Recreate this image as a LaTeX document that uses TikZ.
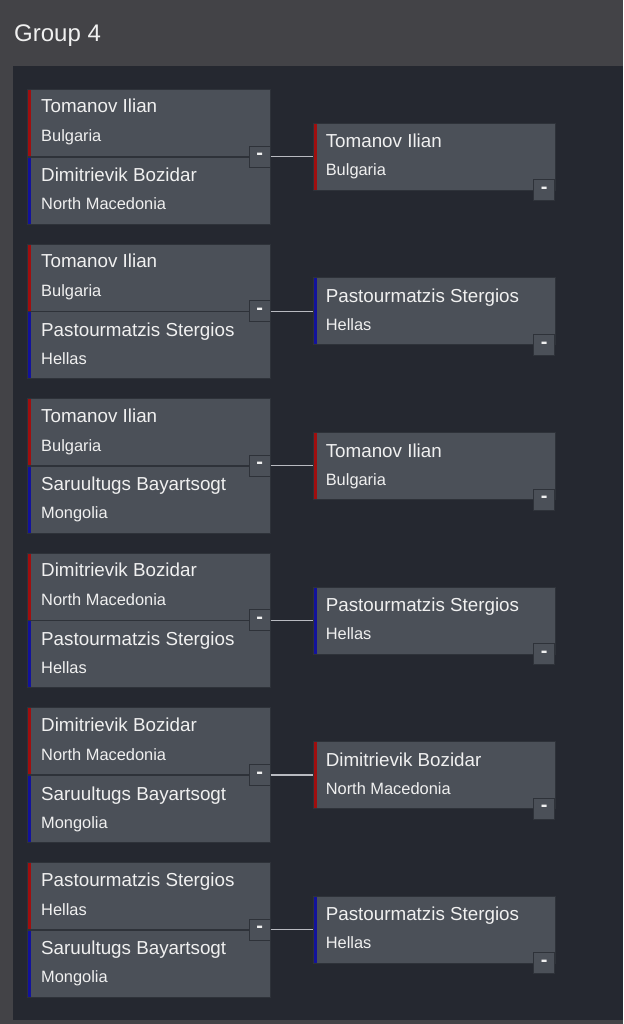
\documentclass[tikz,border=0pt]{standalone}
\usepackage{fontspec}
\setmainfont{Liberation Sans}
\usetikzlibrary{positioning}
\definecolor{headbg}{HTML}{434347}
\definecolor{panelbg}{HTML}{252830}
\definecolor{boxbg}{HTML}{4B5058}
\definecolor{boxline}{HTML}{2E3239}
\definecolor{stripered}{HTML}{A00E0E}
\definecolor{stripeblue}{HTML}{12129C}
\definecolor{textfg}{HTML}{F0F0F0}
\definecolor{linkfg}{HTML}{B8BAC0}

\tikzset{
  playerbox/.style={rectangle, fill=boxbg, draw=boxline, line width=0.6pt,
    minimum width=243pt, minimum height=67pt, inner sep=0pt,
    path picture={\fill[#1] (path picture bounding box.north west)
      rectangle ([xshift=4pt]path picture bounding box.south west);}},
  nametext/.style={anchor=base west, inner sep=0pt, text=textfg,
    font=\fontsize{18.8}{20}\selectfont},
  countrytext/.style={anchor=base west, inner sep=0pt, text=textfg,
    font=\fontsize{16.4}{18}\selectfont},
  minusbtn/.style={rectangle, fill=boxbg, draw=boxline, line width=1pt,
    minimum size=21pt, inner sep=0pt, text=textfg,
    font=\fontsize{20}{20}\bfseries\selectfont},
  link/.style={draw=linkfg, line width=1.2pt}
}

\begin{document}
\begin{tikzpicture}[x=1pt,y=-1pt]
  % background and panel
  \fill[headbg] (0,0) rectangle (623,1024);
  \fill[panelbg] (13,66) rectangle (623,1020);
  \node[anchor=base west, inner sep=0pt, text=textfg,
    font=\fontsize{24}{26}\selectfont] (title) at (14,42) {Group 4};

  \foreach \i/\na/\ca/\nb/\cb/\nw/\cw/\colw in {
    0/Tomanov Ilian/Bulgaria/Dimitrievik Bozidar/North Macedonia/Tomanov Ilian/Bulgaria/stripered,
    1/Tomanov Ilian/Bulgaria/Pastourmatzis Stergios/Hellas/Pastourmatzis Stergios/Hellas/stripeblue,
    2/Tomanov Ilian/Bulgaria/Saruultugs Bayartsogt/Mongolia/Tomanov Ilian/Bulgaria/stripered,
    3/Dimitrievik Bozidar/North Macedonia/Pastourmatzis Stergios/Hellas/Pastourmatzis Stergios/Hellas/stripeblue,
    4/Dimitrievik Bozidar/North Macedonia/Saruultugs Bayartsogt/Mongolia/Dimitrievik Bozidar/North Macedonia/stripered,
    5/Pastourmatzis Stergios/Hellas/Saruultugs Bayartsogt/Mongolia/Pastourmatzis Stergios/Hellas/stripeblue}{
    \pgfmathsetmacro{\y}{89+154.6*\i}
    % the two players
    \node[playerbox=stripered, anchor=north west] (top\i) at (27,\y) {};
    \node[playerbox=stripeblue, anchor=north] (bot\i) at (top\i.south) {};
    \node[nametext] (topname\i) at ([xshift=14pt,yshift=-24pt]top\i.north west) {\na};
    \node[countrytext] (topland\i) at ([xshift=14pt,yshift=-53pt]top\i.north west) {\ca};
    \node[nametext] (botname\i) at ([xshift=14pt,yshift=-25pt]bot\i.north west) {\nb};
    \node[countrytext] (botland\i) at ([xshift=14pt,yshift=-53pt]bot\i.north west) {\cb};
    \node[minusbtn, anchor=east] (btn\i) at (top\i.south east) {-};
    % the winner
    \node[playerbox=\colw, anchor=west, minimum width=242pt] (win\i) at ([xshift=42pt]btn\i.east) {};
    \node[nametext] (winname\i) at ([xshift=13pt,yshift=-25pt]win\i.north west) {\nw};
    \node[countrytext] (winland\i) at ([xshift=13pt,yshift=-53pt]win\i.north west) {\cw};
    \node[minusbtn, anchor=east] (wbtn\i) at (win\i.south east) {-};
    \draw[link] (btn\i) -- (win\i);
  }
\end{tikzpicture}
\end{document}
